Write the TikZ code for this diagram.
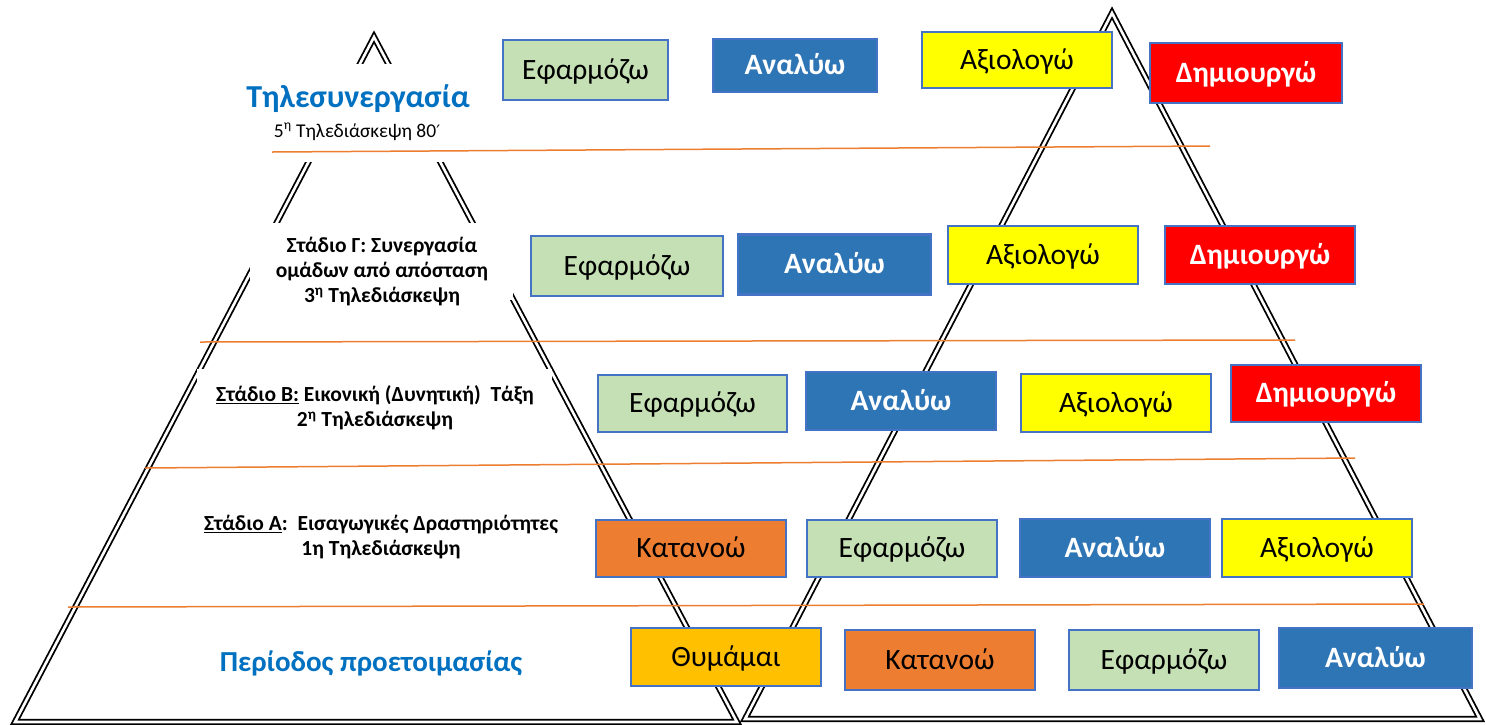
\documentclass[tikz,border=0pt]{standalone}
\usepackage{fontspec}
\setmainfont{Carlito}
\newfontfamily\symfont{DejaVu Sans}
\definecolor{boxgreen}{HTML}{C5E0B4}
\definecolor{boxblue}{HTML}{2E75B6}
\definecolor{boxyellow}{HTML}{FFFF00}
\definecolor{boxred}{HTML}{FF0000}
\definecolor{boxorange}{HTML}{ED7D31}
\definecolor{boxgold}{HTML}{FFC000}
\definecolor{edgeblue}{HTML}{4472C4}
\definecolor{sepline}{HTML}{ED7D31}
\definecolor{titleblue}{HTML}{0070C0}
\begin{document}
\begin{tikzpicture}[x=1pt,y=-1pt,
  tri/.style={draw=black, line width=1.8pt, double=white, double distance=2.6pt, line join=miter},
  sepl/.style={draw=sepline, line width=1.5pt},
  bx/.style={draw=edgeblue, line width=2.2pt, inner sep=0pt, text height=24pt, text depth=6pt, font=\fontsize{29.5}{32}\selectfont},
  gr/.style={bx, fill=boxgreen, text=black},
  bl/.style={bx, fill=boxblue, text=white, font=\fontsize{29.5}{32}\selectfont\bfseries},
  ye/.style={bx, fill=boxyellow, text=black},
  rd/.style={bx, fill=boxred, text=white, font=\fontsize{29.5}{32}\selectfont\bfseries},
  og/.style={bx, fill=boxorange, text=black},
  gd/.style={bx, fill=boxgold, text=black},
  stage/.style={align=center, font=\fontsize{21.5}{25}\selectfont\bfseries, inner sep=0pt},
  big/.style={text=titleblue, font=\bfseries, inner sep=0pt}
]
\useasboundingbox (0,0) rectangle (1486,724);

% triangles
\coordinate (LA) at (374,37);
\coordinate (LL) at (15,722);
\coordinate (LR) at (737,722);
\coordinate (RA) at (1112,13);
\coordinate (RL) at (745,719);
\coordinate (RR) at (1480,719);
\draw[tri] (LA) -- (LR) -- (LL) -- cycle;
\draw[tri] (RA) -- (RR) -- (RL) -- cycle;

% white text areas hiding the left pyramid
\fill[white] (230,64) rectangle (490,162);
\fill[white] (250,223) rectangle (513,300);
\fill[white] (197,369) rectangle (552,445);

% separator lines
\coordinate (s1a) at (272,152); \coordinate (s1b) at (1210,146);
\coordinate (s2a) at (200,342); \coordinate (s2b) at (1295,340);
\coordinate (s3a) at (145,468); \coordinate (s3b) at (1355,458);
\coordinate (s4a) at (68,607);  \coordinate (s4b) at (1424,604);
\draw[sepl] (s1a) -- (s1b);
\draw[sepl] (s2a) -- (s2b);
\draw[sepl] (s3a) -- (s3b);
\draw[sepl] (s4a) -- (s4b);

% row 1
\node[gr, minimum width=165pt, minimum height=60pt] (a1) at (585.5,70) {Εφαρμόζω};
\node[bl, minimum width=164pt, minimum height=53pt] (a2) at (795,65.5) {Αναλύω};
\node[ye, minimum width=190pt, minimum height=56pt] (a3) at (1017,60) {Αξιολογώ};
\node[rd, minimum width=192pt, minimum height=60pt] (a4) at (1246,73) {Δημιουργώ};
% row 2
\node[gr, minimum width=192pt, minimum height=60pt] (b1) at (627,266) {Εφαρμόζω};
\node[bl, minimum width=193pt, minimum height=60pt] (b2) at (834.5,264.5) {Αναλύω};
\node[ye, minimum width=190pt, minimum height=58pt] (b3) at (1043,255) {Αξιολογώ};
\node[rd, minimum width=190pt, minimum height=58pt] (b4) at (1260,255) {Δημιουργώ};
% row 3
\node[gr, minimum width=189pt, minimum height=57pt] (c1) at (692.5,403.5) {Εφαρμόζω};
\node[bl, minimum width=190pt, minimum height=58pt] (c2) at (901,401) {Αναλύω};
\node[ye, minimum width=190pt, minimum height=58pt] (c3) at (1116,403) {Αξιολογώ};
\node[rd, minimum width=190pt, minimum height=57pt] (c4) at (1326,393.5) {Δημιουργώ};
% row 4
\node[og, minimum width=190pt, minimum height=57pt] (d1) at (691,548.5) {Κατανοώ};
\node[gr, minimum width=190pt, minimum height=57pt] (d2) at (902,548.5) {Εφαρμόζω};
\node[bl, minimum width=190pt, minimum height=58pt] (d3) at (1115,548) {Αναλύω};
\node[ye, minimum width=190pt, minimum height=58pt] (d4) at (1317,548) {Αξιολογώ};
% row 5
\node[gd, minimum width=190pt, minimum height=58pt] (e1) at (726,657) {Θυμάμαι};
\node[og, minimum width=190pt, minimum height=60pt] (e2) at (940,660) {Κατανοώ};
\node[gr, minimum width=190pt, minimum height=60pt] (e3) at (1164,660) {Εφαρμόζω};
\node[bl, minimum width=193pt, minimum height=60pt] (e4) at (1375.5,658) {Αναλύω};

% left texts
\node[big, font=\fontsize{32}{36}\selectfont\bfseries] (t0) at (358,99) {Τηλεσυνεργασία};
\node[inner sep=0pt, font=\fontsize{19.5}{22}\selectfont] (t1) at (357,132) {5\textsuperscript{η} Τηλεδιάσκεψη 80{\symfont\fontsize{17}{20}\selectfont ′}};
\node[stage] (tG) at (382,272) {Στάδιο Γ: Συνεργασία\\ ομάδων από απόσταση\\ 3\textsuperscript{η} Τηλεδιάσκεψη};
\node[stage] (tB) at (375,408) {\underline{Στάδιο Β:} Εικονική (Δυνητική)\ \ Τάξη\\ 2\textsuperscript{η} Τηλεδιάσκεψη};
\node[stage] (tA) at (381,537) {\underline{Στάδιο Α}:\ \ Εισαγωγικές Δραστηριότητες\\ 1η Τηλεδιάσκεψη};
\node[big, font=\fontsize{29}{34}\selectfont\bfseries] (tP) at (371,663) {Περίοδος προετοιμασίας};
\end{tikzpicture}
\end{document}
